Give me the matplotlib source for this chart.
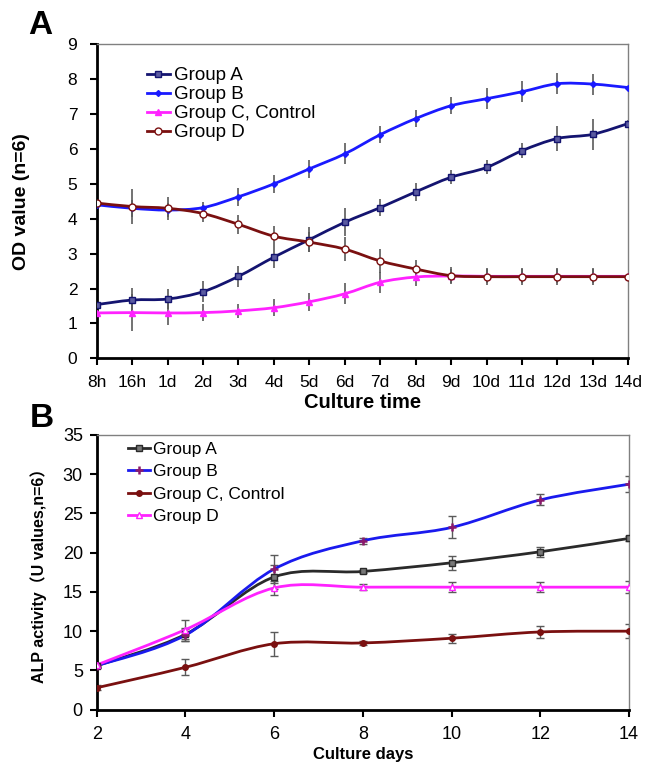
import numpy as np
import matplotlib
matplotlib.use("Agg")
import matplotlib.pyplot as plt
from matplotlib.path import Path
from matplotlib.patches import PathPatch
from matplotlib.lines import Line2D

plt.rcParams['font.family'] = ['Liberation Sans', 'Noto Sans CJK SC', 'DejaVu Sans']

# -------------------------
# DATA - panel A (OD value)
# -------------------------
time_labels = ["8h", "16h", "1d", "2d", "3d", "4d", "5d", "6d",
               "7d", "8d", "9d", "10d", "11d", "12d", "13d", "14d"]

od_a = [1.54, 1.67, 1.70, 1.91, 2.35, 2.90, 3.40, 3.90,
        4.32, 4.77, 5.19, 5.47, 5.95, 6.30, 6.42, 6.73]
od_a_err = [0.10, 0.35, 0.28, 0.30, 0.30, 0.30, 0.35, 0.40,
            0.25, 0.25, 0.20, 0.20, 0.22, 0.35, 0.45, 0.10]

od_b = [4.40, 4.30, 4.25, 4.32, 4.63, 5.00, 5.43, 5.86,
        6.41, 6.87, 7.24, 7.44, 7.64, 7.87, 7.86, 7.76]
od_b_err = [0.05, 0.25, 0.20, 0.15, 0.25, 0.25, 0.25, 0.30,
            0.25, 0.25, 0.25, 0.30, 0.30, 0.30, 0.30, 0.05]

od_c = [1.30, 1.31, 1.30, 1.31, 1.36, 1.45, 1.62, 1.85,
        2.18, 2.33, 2.36, 2.35, 2.35, 2.35, 2.35, 2.35]
od_c_err = [0.05, 0.52, 0.35, 0.25, 0.20, 0.25, 0.25, 0.30,
            0.30, 0.25, 0.20, 0.20, 0.20, 0.20, 0.20, 0.05]

od_d = [4.45, 4.35, 4.30, 4.15, 3.84, 3.50, 3.33, 3.13,
        2.79, 2.56, 2.37, 2.34, 2.34, 2.34, 2.34, 2.34]
od_d_err = [0.05, 0.50, 0.33, 0.25, 0.28, 0.30, 0.28, 0.35,
            0.35, 0.25, 0.25, 0.25, 0.25, 0.25, 0.25, 0.05]

# -------------------------
# DATA - panel B (ALP activity)
# -------------------------
days = [2, 4, 6, 8, 10, 12, 14]

alp_a = [5.6, 9.6, 16.9, 17.6, 18.7, 20.1, 21.8]
alp_a_err = [0.3, 0.8, 1.5, 0.2, 0.9, 0.6, 0.3]

alp_b = [5.6, 9.5, 17.9, 21.5, 23.2, 26.7, 28.7]
alp_b_err = [0.3, 0.8, 1.8, 0.4, 1.4, 0.7, 1.0]

alp_c = [2.8, 5.4, 8.4, 8.5, 9.1, 9.9, 10.0]
alp_c_err = [0.3, 1.0, 1.5, 0.2, 0.6, 0.8, 0.9]

alp_d = [5.7, 10.2, 15.5, 15.6, 15.6, 15.6, 15.6]
alp_d_err = [0.3, 1.2, 0.9, 0.4, 0.6, 0.6, 0.8]

group_names_a = ["Group A", "Group B", "Group C, Control", "Group D"]
group_names_b = ["Group A", "Group B", "Group C, Control", "Group D"]


# -------------------------
# HELPERS
# -------------------------
def smooth_line(ax, x, y, color, lw=2.0, zorder=3):
    # Excel-like smoothed line: cubic bezier through the data points
    x = np.asarray(x, float)
    y = np.asarray(y, float)
    n = len(x)
    verts = [(x[0], y[0])]
    codes = [Path.MOVETO]
    for i in range(n - 1):
        x0, y0 = (x[i - 1], y[i - 1]) if i > 0 else (x[i], y[i])
        x3, y3 = (x[i + 2], y[i + 2]) if i + 2 < n else (x[i + 1], y[i + 1])
        c1 = (x[i] + (x[i + 1] - x0) / 6, y[i] + (y[i + 1] - y0) / 6)
        c2 = (x[i + 1] - (x3 - x[i]) / 6, y[i + 1] - (y3 - y[i]) / 6)
        verts += [c1, c2, (x[i + 1], y[i + 1])]
        codes += [Path.CURVE4] * 3
    ax.add_patch(PathPatch(Path(verts, codes), fill=False, edgecolor=color,
                           lw=lw, zorder=zorder, capstyle='round'))


def style_axes(ax, size, xpad, ypad):
    for s in ["left", "bottom"]:
        ax.spines[s].set_linewidth(2.0)
        ax.spines[s].set_color("black")
    for s in ["top", "right"]:
        ax.spines[s].set_linewidth(1.0)
        ax.spines[s].set_color("#808080")
    ax.tick_params(axis="both", direction="out", length=5, width=1.5,
                   labelsize=size)
    ax.tick_params(axis="x", pad=xpad)
    ax.tick_params(axis="y", pad=ypad)


fig = plt.figure(figsize=(6.45, 7.64), dpi=100)

# -------------------------
# PANEL A
# -------------------------
ax1 = fig.add_axes([0.150, 0.531, 0.824, 0.411])
xa = np.arange(len(time_labels))

series_a = [
    (od_a, od_a_err, "#141470", "s", dict(mfc="#5a5aa0", mec="#141470", ms=5)),
    (od_b, od_b_err, "#1a1aff", "D", dict(mfc="#1a1aff", mec="#1a1aff", ms=3)),
    (od_c, od_c_err, "#ff22ff", "^", dict(mfc="#ff22ff", mec="#ff22ff", ms=4)),
    (od_d, od_d_err, "#7a1010", "o", dict(mfc="white", mec="#7a1010", ms=5)),
]
handles = []
for (vals, err, col, mk, mkw), name in zip(series_a, group_names_a):
    smooth_line(ax1, xa, vals, col, lw=2.0)
    ax1.errorbar(xa, vals, yerr=err, fmt="none", ecolor="#5a5a5a",
                 elinewidth=1.2, capsize=0, zorder=2)
    ax1.plot(xa, vals, linestyle="none", marker=mk, zorder=4, **mkw)
    handles.append(Line2D([], [], color=col, lw=2, marker=mk, **mkw))

ax1.set_xlim(0, 15)
ax1.set_ylim(0, 9)
ax1.set_xticks(xa)
ax1.set_xticklabels(time_labels)
ax1.set_yticks(range(0, 10))
style_axes(ax1, 12.5, 7, 9)
ax1.set_ylabel("OD value (n=6)", fontsize=14, fontweight="bold")
ax1.yaxis.set_label_coords(-0.125, 0.5)
ax1.set_xlabel("Culture time", fontsize=14.5, fontweight="bold")
ax1.xaxis.set_label_coords(0.5, -0.112)
ax1.legend(handles, group_names_a, loc="upper left",
           bbox_to_anchor=(0.094, 0.927), frameon=False, fontsize=13.5,
           handlelength=1.25, handletextpad=0.2, labelspacing=0.1,
           borderaxespad=0, borderpad=0)
fig.text(0.043, 0.966, "A", fontsize=24, fontweight="bold", ha="left", va="center")

# -------------------------
# PANEL B
# -------------------------
ax2 = fig.add_axes([0.150, 0.071, 0.825, 0.360])

series_b = [
    (alp_a, alp_a_err, "#2a2a2a", "s", dict(mfc="#777777", mec="#2a2a2a", ms=4)),
    (alp_b, alp_b_err, "#1a1aee", "+", dict(mfc="#8b1a6b", mec="#8b1a6b", ms=6, mew=1.8)),
    (alp_c, alp_c_err, "#7a1010", "o", dict(mfc="#7a1010", mec="#7a1010", ms=4)),
    (alp_d, alp_d_err, "#ff22ff", "^", dict(mfc="white", mec="#ff22ff", ms=5)),
]
handles_b = []
for (vals, err, col, mk, mkw), name in zip(series_b, group_names_b):
    smooth_line(ax2, days, vals, col, lw=2.0)
    ax2.errorbar(days, vals, yerr=err, fmt="none", ecolor="#5a5a5a",
                 elinewidth=1.0, capsize=3, capthick=1.0, zorder=2)
    ax2.plot(days, vals, linestyle="none", marker=mk, zorder=4, **mkw)
    handles_b.append(Line2D([], [], color=col, lw=2, marker=mk, **mkw))

ax2.set_xlim(2, 14)
ax2.set_ylim(0, 35)
ax2.set_xticks(days)
ax2.set_yticks(range(0, 36, 5))
style_axes(ax2, 13, 7, 5)
ax2.set_ylabel("ALP activity（U values,n=6）", fontsize=11.5, fontweight="bold")
ax2.yaxis.set_label_coords(-0.094, 0.5)
ax2.set_xlabel("Culture days", fontsize=12, fontweight="bold")
ax2.xaxis.set_label_coords(0.5, -0.135)
ax2.legend(handles_b, group_names_b, loc="upper left",
           bbox_to_anchor=(0.058, 0.974), frameon=False, fontsize=12.5,
           handlelength=1.27, handletextpad=0.2, labelspacing=0.42,
           borderaxespad=0, borderpad=0)
fig.text(0.046, 0.452, "B", fontsize=24, fontweight="bold", ha="left", va="center")

fig.savefig("out.png", dpi=100)
